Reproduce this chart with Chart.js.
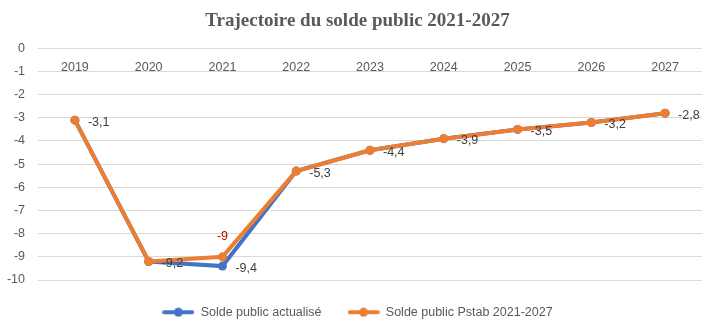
<!DOCTYPE html>
<html lang="fr">
<head>
<meta charset="utf-8">
<title>Trajectoire du solde public 2021-2027</title>
<script src="https://cdn.jsdelivr.net/npm/chart.js@4.4.1/dist/chart.umd.min.js"></script>
<style>
    html, body { margin: 0; padding: 0; background: #ffffff; }
    #solde_chart { display: block; }
</style>
</head>
<body>
<canvas id="solde_chart" width="715" height="327"></canvas>
<script>
const years = ['2019', '2020', '2021', '2022', '2023', '2024', '2025', '2026', '2027'];
const solde_actualise = [-3.1, -9.2, -9.4, -5.3, -4.4, -3.9, -3.5, -3.2, -2.8];
const solde_pstab = [-3.1, -9.2, -9.0, -5.3, -4.4, -3.9, -3.5, -3.2, -2.8];
const y_min = -10;
const y_max = 0;

const SERIES_COLORS = {
    blue: '#4472C4',
    orange: '#ED7D31'
};
const TEXT_GREY = '#595959';
const LABEL_GREY = '#404040';
const LABEL_RED = '#C00000';
const BODY_FONT = '"Liberation Sans", Arial, sans-serif';

// french decimal comma: -9,4
function format_fr(v) {
    return String(v).replace('.', ',');
}

// line with a dot, the way the legend shows each series
function make_legend_marker(color) {
    const c = document.createElement('canvas');
    c.width = 32;
    c.height = 10;
    const g = c.getContext('2d');
    g.strokeStyle = color;
    g.lineWidth = 4;
    g.lineCap = 'round';
    g.beginPath();
    g.moveTo(2, 5);
    g.lineTo(30, 5);
    g.stroke();
    g.fillStyle = color;
    g.beginPath();
    g.arc(16, 5, 4.5, 0, Math.PI * 2);
    g.fill();
    return c;
}

const legend_markers = [make_legend_marker(SERIES_COLORS.orange), make_legend_marker(SERIES_COLORS.blue)];

const canvas_background_plugin = {
    id: 'canvas_background',
    beforeDraw: (chart) => {
        const ctx = chart.ctx;
        ctx.save();
        ctx.fillStyle = '#ffffff';
        ctx.fillRect(0, 0, chart.width, chart.height);
        ctx.restore();
    }
};

// value labels: right of the "actualisé" points, and in red above
// the Pstab point wherever the two series differ
const value_labels_plugin = {
    id: 'value_labels',
    afterDatasetsDraw: (chart) => {
        const ctx = chart.ctx;
        const pstab_meta = chart.getDatasetMeta(0);
        const actual_meta = chart.getDatasetMeta(1);
        ctx.save();
        ctx.font = '12.5px ' + BODY_FONT;
        ctx.textBaseline = 'middle';
        ctx.textAlign = 'left';
        ctx.fillStyle = LABEL_GREY;
        actual_meta.data.forEach((pt, i) => {
            ctx.fillText(format_fr(solde_actualise[i]), pt.x + 13, pt.y + 2);
        });
        ctx.textAlign = 'center';
        ctx.fillStyle = LABEL_RED;
        pstab_meta.data.forEach((pt, i) => {
            if (solde_pstab[i] !== solde_actualise[i]) {
                ctx.fillText(format_fr(solde_pstab[i]), pt.x, pt.y - 20);
            }
        });
        ctx.restore();
    }
};

const config = {
    type: 'line',
    data: {
        labels: years,
        datasets: [
            {
                label: 'Solde public Pstab 2021-2027',
                data: solde_pstab,
                yAxisID: 'y',
                borderColor: SERIES_COLORS.orange,
                backgroundColor: SERIES_COLORS.orange,
                borderWidth: 4,
                pointRadius: 4.5,
                pointHoverRadius: 4.5,
                pointBorderWidth: 0,
                tension: 0
            },
            {
                label: 'Solde public actualisé',
                data: solde_actualise,
                yAxisID: 'y',
                borderColor: SERIES_COLORS.blue,
                backgroundColor: SERIES_COLORS.blue,
                borderWidth: 4,
                pointRadius: 4.5,
                pointHoverRadius: 4.5,
                pointBorderWidth: 0,
                tension: 0
            }
        ]
    },
    options: {
        responsive: false,
        animation: false,
        events: [],
        layout: {
            padding: { left: 0, right: 0, top: 0, bottom: -1.5 }
        },
        scales: {
            x: {
                type: 'category',
                position: { y: 0 },
                offset: true,
                grid: { display: false, drawTicks: false },
                border: { display: false },
                ticks: {
                    color: TEXT_GREY,
                    font: { family: BODY_FONT, size: 12.5 },
                    padding: 12,
                    maxRotation: 0
                }
            },
            y: {
                position: 'left',
                min: y_min,
                max: y_max,
                grid: { color: '#d9d9d9', lineWidth: 1, drawTicks: false },
                border: { display: false },
                ticks: {
                    stepSize: 1,
                    color: TEXT_GREY,
                    font: { family: BODY_FONT, size: 12.5 },
                    padding: 13,
                    callback: (v) => String(v)
                },
                afterFit: (scale) => {
                    scale.width = 38;
                }
            },
            // empty right-hand margin, keeps the plot clear of the edge
            y_margin: {
                type: 'linear',
                position: 'right',
                grid: { display: false, drawTicks: false },
                border: { display: false },
                ticks: { display: false },
                afterFit: (scale) => {
                    scale.width = 13;
                }
            }
        },
        plugins: {
            title: {
                display: true,
                text: 'Trajectoire du solde public 2021-2027',
                color: TEXT_GREY,
                font: { family: '"Liberation Serif", "Times New Roman", serif', size: 19, weight: 'bold' },
                padding: { top: 9.5, bottom: 16 }
            },
            legend: {
                position: 'bottom',
                reverse: true,
                labels: {
                    color: TEXT_GREY,
                    font: { family: BODY_FONT, size: 12.5 },
                    usePointStyle: true,
                    pointStyleWidth: 32,
                    padding: 26,
                    generateLabels: (chart) => {
                        const items = Chart.defaults.plugins.legend.labels.generateLabels(chart);
                        items.forEach((item) => {
                            item.pointStyle = legend_markers[item.datasetIndex];
                        });
                        return items;
                    }
                }
            },
            tooltip: { enabled: false }
        }
    },
    plugins: [canvas_background_plugin, value_labels_plugin]
};

new Chart(document.getElementById('solde_chart').getContext('2d'), config);
</script>
</body>
</html>
